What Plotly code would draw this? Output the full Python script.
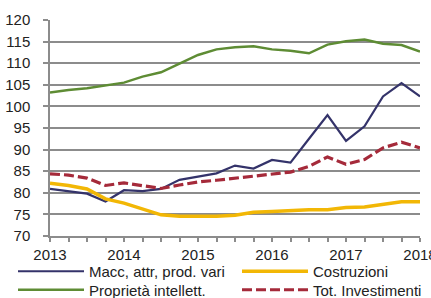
import plotly.graph_objects as go

quarters = [2013 + k / 4 for k in range(21)]
macc = [80.9, 80.4, 79.8, 78.0, 80.6, 80.4, 80.9, 83.0, 83.8, 84.5, 86.3, 85.6, 87.6, 87.0,
        92.5, 98.0, 92.0, 95.4, 102.3, 105.4, 102.3]
costruzioni = [82.2, 81.7, 80.9, 78.6, 77.6, 76.3, 74.9, 74.6, 74.5, 74.6, 74.8, 75.5, 75.7, 75.9,
               76.1, 76.1, 76.6, 76.7, 77.3, 77.9, 77.9]
proprieta = [103.2, 103.8, 104.2, 104.8, 105.5, 106.9, 107.9, 109.9, 111.9, 113.2, 113.7, 113.9,
             113.2, 112.9, 112.3, 114.3, 115.1, 115.5, 114.5, 114.2, 112.7]
totale = [84.4, 84.1, 83.4, 81.7, 82.3, 81.7, 81.0, 81.8, 82.5, 82.9, 83.4, 83.8, 84.4, 84.8,
          86.1, 88.3, 86.6, 87.7, 90.4, 91.7, 90.4]

names = ["Macc, attr, prod. vari", "Costruzioni", "Proprietà intellett.", "Tot. Investimenti"]
year_ticks = [2013, 2014, 2015, 2016, 2017, 2018]

fig = go.Figure()
fig.add_trace(go.Scatter(x=quarters, y=macc, name=names[0], mode="lines", legend="legend",
                         line=dict(color="#34336A", width=2.2)))
fig.add_trace(go.Scatter(x=quarters, y=proprieta, name=names[2], mode="lines", legend="legend3",
                         line=dict(color="#5E8C34", width=2.5)))
fig.add_trace(go.Scatter(x=quarters, y=costruzioni, name=names[1], mode="lines", legend="legend2",
                         line=dict(color="#F2B705", width=3.5)))
fig.add_trace(go.Scatter(x=quarters, y=totale, name=names[3], mode="lines", legend="legend4",
                         line=dict(color="#A52A3A", width=3.2, dash="10px,4px")))

font_family = "Liberation Sans, Arial, sans-serif"
leg_common = dict(xref="container", yref="container", xanchor="left", yanchor="top",
                  itemwidth=66, font=dict(size=15), bgcolor="rgba(0,0,0,0)",
                  traceorder="normal", orientation="v")
row1_top = 255
row2_top = 273.5
fig.update_layout(
    width=431, height=298,
    margin=dict(l=50, r=11, t=20, b=61.5, autoexpand=False),
    paper_bgcolor="white", plot_bgcolor="white",
    font=dict(family=font_family, size=15, color="#222222"),
    showlegend=True,
    legend=dict(x=13 / 431, y=1 - row1_top / 298, **leg_common),
    legend2=dict(x=237 / 431, y=1 - row1_top / 298, **leg_common),
    legend3=dict(x=13 / 431, y=1 - row2_top / 298, **leg_common),
    legend4=dict(x=237 / 431, y=1 - row2_top / 298, **leg_common),
    xaxis=dict(range=[2013, 2018], tickvals=year_ticks, ticktext=[str(y) for y in year_ticks],
               ticklabeloverflow="allow",
               showgrid=False, zeroline=False, showline=True, linecolor="#8C8C8C", linewidth=1.5,
               ticks="outside", ticklen=4, tickcolor="#8C8C8C", tickwidth=1.5,
               minor=dict(dtick=0.25, tick0=2013, ticks="outside", ticklen=4,
                          tickcolor="#8C8C8C", tickwidth=1.5, showgrid=False),
               fixedrange=True),
    yaxis=dict(range=[70, 120], dtick=5, tick0=70, showgrid=True, gridcolor="#8C8C8C",
               gridwidth=1.5, zeroline=False, showline=True, linecolor="#8C8C8C", linewidth=1.5,
               ticks="outside", ticklen=5, tickcolor="#8C8C8C", tickwidth=1.5,
               ticklabelstandoff=10, fixedrange=True),
)

fig.write_html("out.html", config={"displayModeBar": False},
               post_script="document.body.style.margin='0';")
